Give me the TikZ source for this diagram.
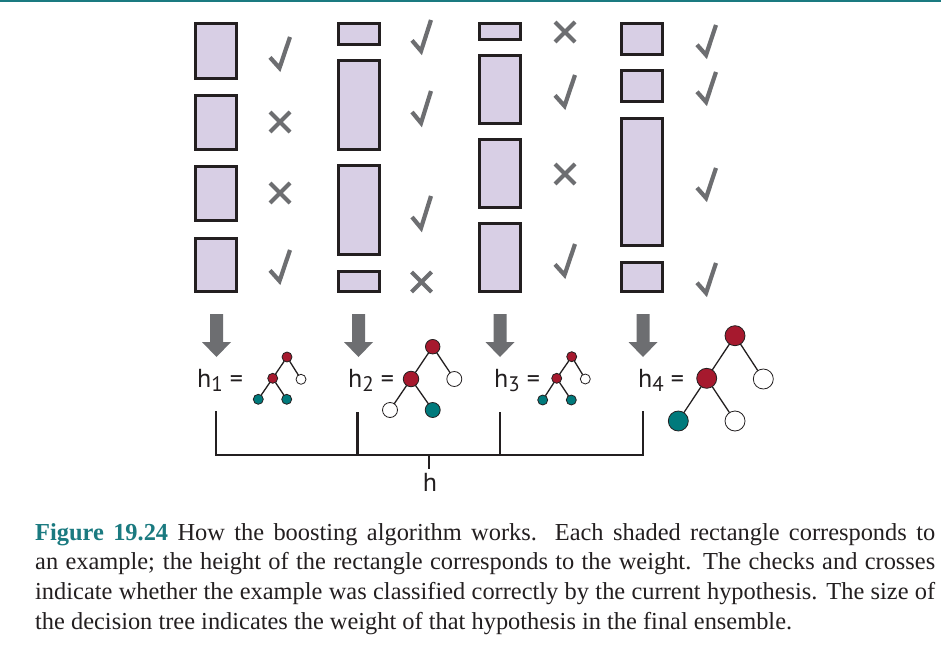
\documentclass[tikz,border=0pt]{standalone}
\usepackage{fontspec}
\setmainfont{Liberation Serif}
\newfontfamily\labfont{PT Sans}
\definecolor{boxfill}{HTML}{D8CFE5}
\definecolor{boxline}{HTML}{231F20}
\definecolor{markgray}{HTML}{6D6E71}
\definecolor{treered}{HTML}{A6192E}
\definecolor{treeteal}{HTML}{007A7C}
\definecolor{capteal}{HTML}{1A7A80}
\tikzset{
  exbox/.style={draw=boxline, fill=boxfill, line width=3pt, rectangle, inner sep=0pt, outer sep=0pt, minimum width=41pt},
  cmark/.style={draw=markgray, line width=4.2pt, line join=miter},
  blockarrow/.style={fill=markgray},
  tnode/.style={circle, draw=boxline, line width=0.8pt, inner sep=0pt, outer sep=0pt},
  rn/.style={tnode, fill=treered},
  tn/.style={tnode, fill=treeteal},
  wn/.style={tnode, fill=white},
  tedge/.style={draw=boxline, line width=1.3pt},
  bracket/.style={draw=boxline, line width=2.6pt},
  hlab/.style={font=\labfont\fontsize{26}{28}\selectfont, text=boxline, inner sep=0pt, anchor=base west},
}
% rectangle: name, center x, top, bottom
\newcommand\exr[4]{\node[exbox, minimum height={#4-#3-3}] (#1) at (#2, {(#3+#4)/2}) {};}
% check: left x, right x, top y, bottom y
\newcommand\chk[4]{\draw[cmark] ({#1+2}, {#3+0.64*(#4-#3)}) -- ({#1+0.48*(#2-#1)}, {#4-2}) -- ({#2-2}, {#3+2});}
% cross: center x, center y
\newcommand\crs[2]{\draw[cmark] ({#1-10}, {#2-10}) -- ({#1+10}, {#2+10}) ({#1-10}, {#2+10}) -- ({#1+10}, {#2-10});}
% block arrow: center x
\newcommand\barrow[1]{\fill[blockarrow] ({#1-6.5}, 314) -- ({#1+6.5}, 314) -- ({#1+6.5}, 342) -- ({#1+14.5}, 342) -- (#1, 357) -- ({#1-14.5}, 342) -- ({#1-6.5}, 342) -- cycle;}
\newcommand\sub[1]{\raisebox{-0.16em}{\fontsize{21}{23}\selectfont #1}}
\begin{document}
\begin{tikzpicture}[x=1pt, y=-1pt]
\useasboundingbox (0,0) rectangle (941,652);
\fill[white] (0,0) rectangle (941,652);
\fill[capteal] (0,0) rectangle (941,1.6);

% column 1
\exr{a1}{216}{22}{80}
\exr{a2}{216}{94}{151}
\exr{a3}{216}{165}{222}
\exr{a4}{216}{237}{293}
\chk{268}{292}{35}{70}
\crs{280}{122}
\crs{280}{193}
\chk{268}{292}{248}{283}

% column 2
\exr{b1}{358.5}{22}{46}
\exr{b2}{358.5}{59}{151}
\exr{b3}{358.5}{164}{256}
\exr{b4}{358.5}{270}{293}
\chk{410}{433}{18}{53}
\chk{410}{433}{89}{125}
\chk{410}{433}{194}{230}
\crs{421.5}{282}

% column 3
\exr{c1}{500}{22}{41}
\exr{c2}{500}{54}{125}
\exr{c3}{500}{138}{209}
\exr{c4}{500}{222}{293}
\crs{565}{32}
\chk{553}{577}{73}{108}
\crs{565}{174}
\chk{553}{577}{242}{277}

% column 4
\exr{d1}{642}{22}{56}
\exr{d2}{642}{69}{103}
\exr{d3}{642}{117}{247}
\exr{d4}{642}{261}{293}
\chk{695}{718}{23}{57}
\chk{695}{718}{70}{104}
\chk{695}{718}{166}{200}
\chk{695}{718}{261}{295}

% arrows
\barrow{216.5}
\barrow{358.5}
\barrow{500}
\barrow{643}

% labels
\node[hlab] (h1) at (197,387) {h\sub{1} =};
\node[hlab] (h2) at (348,387) {h\sub{2} =};
\node[hlab] (h3) at (494,387) {h\sub{3} =};
\node[hlab] (h4) at (638,387) {h\sub{4} =};

% tree 1
\node[rn, minimum size=10pt] (t1r) at (287,357) {};
\node[rn, minimum size=10pt] (t1l) at (272.7,378.3) {};
\node[wn, minimum size=10pt] (t1w) at (301,379.3) {};
\node[tn, minimum size=10pt] (t1a) at (258.3,399.3) {};
\node[tn, minimum size=10pt] (t1b) at (286.7,399.3) {};
\draw[tedge] (t1r) -- (t1l) (t1r) -- (t1w) (t1l) -- (t1a) (t1l) -- (t1b);

% tree 2
\node[rn, minimum size=14.5pt] (t2r) at (432.7,346.7) {};
\node[rn, minimum size=15.5pt] (t2l) at (411,379) {};
\node[wn, minimum size=15pt] (t2w) at (454.3,379) {};
\node[wn, minimum size=15pt] (t2a) at (390,410) {};
\node[tn, minimum size=15pt] (t2b) at (432.7,410) {};
\draw[tedge] (t2r) -- (t2l) (t2r) -- (t2w) (t2l) -- (t2a) (t2l) -- (t2b);

% tree 3
\node[rn, minimum size=10pt] (t3r) at (571.7,356.7) {};
\node[rn, minimum size=10pt] (t3l) at (556.7,378.3) {};
\node[wn, minimum size=10pt] (t3w) at (585.3,379) {};
\node[tn, minimum size=10pt] (t3a) at (542.7,400) {};
\node[tn, minimum size=10pt] (t3b) at (571.3,400) {};
\draw[tedge] (t3r) -- (t3l) (t3r) -- (t3w) (t3l) -- (t3a) (t3l) -- (t3b);

% tree 4
\node[rn, minimum size=20pt] (t4r) at (735,335.7) {};
\node[rn, minimum size=20pt] (t4l) at (706.7,378.3) {};
\node[wn, minimum size=20pt] (t4w) at (763.3,379) {};
\node[tn, minimum size=20pt] (t4a) at (678.3,421) {};
\node[wn, minimum size=20pt] (t4b) at (735,421) {};
\draw[tedge] (t4r) -- (t4l) (t4r) -- (t4w) (t4l) -- (t4a) (t4l) -- (t4b);

% bracket
\coordinate (k1) at (216,412);
\coordinate (k2) at (357.7,412);
\coordinate (k3) at (500,412);
\coordinate (k4) at (643,412);
\coordinate (kc) at (429,455);
\node[hlab, anchor=base] (hh) at (430,491.5) {h};
\draw[bracket, line cap=rect] (k1) -- (k1 |- kc) -- (k4 |- kc) -- (k4);
\draw[bracket] (k2) -- (k2 |- kc);
\draw[bracket] (k3) -- (k3 |- kc);
\draw[bracket] (kc) -- (kc |- 0,469);

% caption
\node[anchor=base west, text width=900pt, align=justify, inner sep=0pt, font=\fontsize{24.4}{29.8}\selectfont, text=boxline] (cap) at (35,540)
{\textbf{\color{capteal}Figure 19.24} How the boosting algorithm works.  Each shaded rectangle corresponds to\linebreak an example; the height of the rectangle corresponds to the weight.  The checks and crosses\linebreak indicate whether the example was classified correctly by the current hypothesis. The size of\linebreak the decision tree indicates the weight of that hypothesis in the final ensemble.};
\end{tikzpicture}
\end{document}
